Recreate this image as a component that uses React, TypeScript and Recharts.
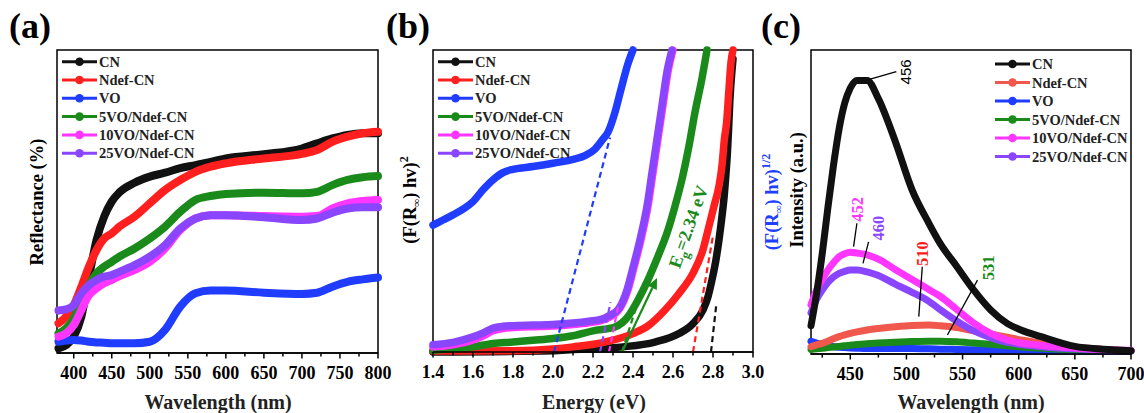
import React from "react";
import {
  LineChart,
  Line,
  XAxis,
  YAxis,
  ReferenceArea,
  ReferenceLine,
  ReferenceDot,
} from "recharts";

const SERIF = '"Liberation Serif", "Times New Roman", serif';
const SANS = '"Liberation Sans", Arial, sans-serif';

const names = ["CN", "Ndef-CN", "VO", "5VO/Ndef-CN", "10VO/Ndef-CN", "25VO/Ndef-CN"];
const colors = ["#111111", "#ff1f1f", "#1f3cff", "#1a8a1a", "#ff36ff", "#8a45ff"];
const colorsPL = ["#111111", "#f0584e", "#1f3cff", "#1a8a1a", "#ff36ff", "#8a45ff"];

// ---- (a) diffuse reflectance ----
const wlA = [380, 390, 400, 410, 420, 430, 440, 450, 460, 480, 500, 520, 540, 560, 580, 600, 650, 700, 720, 740, 760, 780, 800];
const refCN = [1.5, 2.6, 5.4, 12, 25, 37.3, 45, 50, 53, 56.2, 58.2, 59.5, 61, 62, 63.1, 64.2, 65.6, 67.5, 69.2, 70.8, 72, 72.5, 72.5];
const refNdef = [9.8, 12, 15.8, 21.9, 28.5, 34, 37.8, 39.5, 41.7, 45, 49.4, 53.8, 57.1, 59.8, 61.5, 62.6, 64.2, 65.7, 67, 69.7, 71.4, 72.5, 73];
const refVO = [3.7, 4.1, 4.3, 4.1, 3.7, 3.5, 3.4, 3.2, 3.2, 3.2, 3.7, 7.6, 15.3, 19.7, 20.6, 20.6, 19.9, 19.5, 19.9, 21.9, 23.5, 24.3, 24.9];
const ref5VO = [6.5, 8.1, 11.4, 17, 22.4, 26.3, 28.5, 30.1, 31.8, 34.5, 37.8, 41.7, 46.6, 50.5, 51.8, 52.5, 52.9, 52.7, 53.2, 55.4, 57.1, 58, 58.4];
const ref10VO = [5.4, 6.5, 9.2, 14.2, 19.1, 21.3, 23, 24.1, 25.4, 27.4, 30.1, 34.5, 40.6, 44.4, 45.5, 45.5, 45.2, 45, 45.2, 47.7, 49.4, 50.2, 50.5];
const ref25VO = [14, 14.4, 15.8, 19.7, 22.4, 24.1, 25.2, 25.7, 26.8, 29, 31.8, 35.6, 41.1, 44.4, 45.5, 45.5, 44.8, 43.9, 44.4, 46.3, 47.7, 48.1, 48.1];
const ticksA = [400, 450, 500, 550, 600, 650, 700, 750, 800];
const minorA = [425, 475, 525, 575, 625, 675, 725, 775];

// ---- (b) Tauc plot ----
const eCN = [1.4, 2.0, 2.1, 2.35, 2.51, 2.63, 2.7, 2.75, 2.775, 2.795, 2.815, 2.83, 2.845, 2.856, 2.864, 2.872, 2.878, 2.884, 2.893, 2.9];
const tCN = [0, 0.4, 0.8, 1.7, 3.3, 6.1, 9.4, 13.9, 18.3, 23.9, 30.6, 37.2, 45, 51.7, 58.3, 66, 73.9, 82.8, 91.7, 97];
const eNdef = [1.4, 1.8, 2.0, 2.1, 2.26, 2.4, 2.48, 2.56, 2.63, 2.7, 2.75, 2.78, 2.805, 2.83, 2.845, 2.857, 2.868, 2.88, 2.89, 2.9];
const tNdef = [0.3, 0.4, 1, 1.7, 3.3, 6.1, 8.9, 13.9, 19.4, 26.1, 33.9, 41.7, 48.3, 55, 61.7, 70.5, 76, 87.2, 96, 100];
const eVO = [1.4, 1.45, 1.5, 1.55, 1.6, 1.65, 1.7, 1.75, 1.8, 1.9, 2.0, 2.1, 2.16, 2.21, 2.25, 2.275, 2.31, 2.34, 2.375, 2.4];
const tVO = [42, 43.7, 45.4, 47.3, 49.8, 53.7, 57, 59.4, 60.5, 61.4, 62.5, 63.8, 65, 67.2, 70.5, 72.8, 79.4, 87, 95.5, 100];
const e5VO = [1.4, 1.6, 1.7, 1.8, 1.9, 2.0, 2.1, 2.2, 2.31, 2.375, 2.425, 2.475, 2.525, 2.57, 2.61, 2.645, 2.68, 2.71, 2.745, 2.77];
const t5VO = [0.6, 1.7, 2.8, 3.3, 3.9, 4.5, 5.4, 7, 8.3, 11.7, 17.2, 23.9, 31.7, 39.4, 48.3, 57.2, 68.3, 79.4, 90.6, 100];
const e10VO = [1.4, 1.5, 1.6, 1.65, 1.7, 1.75, 1.8, 1.9, 2.0, 2.1, 2.18, 2.24, 2.29, 2.335, 2.375, 2.405, 2.44, 2.475, 2.5, 2.525, 2.55, 2.575, 2.6];
const t10VO = [1.7, 2.4, 4, 5.3, 7, 7.8, 8.1, 8.4, 8.6, 9.1, 9.7, 10.4, 11.8, 14.5, 20.6, 28, 37.2, 48.3, 59.4, 70.6, 81.7, 92.8, 100];
const e25VO = [1.4, 1.5, 1.6, 1.65, 1.7, 1.75, 1.8, 1.9, 2.0, 2.1, 2.18, 2.24, 2.28, 2.33, 2.37, 2.4, 2.435, 2.47, 2.495, 2.52, 2.545, 2.57, 2.595];
const t25VO = [2.4, 3.2, 5, 6.3, 7.9, 8.5, 8.7, 8.9, 9.1, 9.6, 10.2, 10.8, 12, 14.5, 20.6, 28, 37.2, 48.3, 59.4, 70.6, 81.7, 92.8, 100];
const ticksB = [1.4, 1.6, 1.8, 2.0, 2.2, 2.4, 2.6, 2.8, 3.0];
const minorB = [1.5, 1.7, 1.9, 2.1, 2.3, 2.5, 2.7, 2.9];

// tangent fits: [x0, y0, x1, y1, colour]
const tangents: Array<[number, number, number, number, string]> = [
  [2.005, 0, 2.285, 71, colors[2]],
  [2.235, 0, 2.288, 16.5, colors[5]],
  [2.28, 0, 2.33, 16.5, colors[4]],
  [2.345, 0, 2.455, 23, colors[3]],
  [2.7, 0, 2.8, 38.5, colors[1]],
  [2.79, 0, 2.817, 16, colors[0]],
];
const egArrow = [2.345, 0, 2.52, 24.5];
const egLabelPos = [2.675, 41.5];

// ---- (c) photoluminescence ----
const wlC = [415, 420, 425, 430, 435, 440, 445, 450, 456, 465, 475, 490, 505, 520, 530, 545, 560, 575, 590, 602, 620, 650, 675, 700];
const plCN = [9.3, 20, 33, 48, 62, 74, 82.5, 87.5, 90, 90, 84, 70, 54, 43, 36.4, 28.7, 21, 14.5, 10, 7.9, 5.7, 2.5, 1.6, 1.1];
const plNdef = [2.4, 3, 3.5, 4.2, 5, 5.7, 6.3, 6.8, 7.3, 7.9, 8.4, 9, 9.4, 9.5, 9.3, 8.7, 7.6, 6.6, 5.5, 4.6, 3.6, 2.2, 1.5, 1.1];
const plVO = [4.2, 3.6, 3.1, 2.7, 2.4, 2.2, 2.1, 2, 1.9, 1.8, 1.8, 1.8, 1.8, 1.7, 1.6, 1.5, 1.4, 1.3, 1.2, 1.2, 1.1, 1.1, 1, 1];
const pl5VO = [1.5, 1.7, 1.9, 2.1, 2.3, 2.5, 2.7, 2.9, 3.1, 3.4, 3.6, 3.9, 4.1, 4.2, 4.2, 4, 3.6, 3.2, 2.7, 2.3, 1.9, 1.4, 1.2, 1.1];
const pl10VO = [16.2, 21, 24.5, 27.6, 30, 32, 33, 33.5, 33.2, 32.6, 31.2, 27.8, 24.5, 21.2, 19, 14.6, 10.2, 6.8, 4.6, 3.6, 2.8, 2, 1.5, 1.2];
const pl25VO = [13.5, 18, 21, 23.5, 25.3, 26.5, 27.2, 27.6, 27.6, 27, 25.8, 23, 20.3, 17.3, 14.6, 10.8, 7.6, 5.4, 3.8, 3.1, 2.4, 1.7, 1.3, 1.1];
const ticksC = [450, 500, 550, 600, 650, 700];
const minorC = [425, 475, 525, 575, 625, 675];

// peak callouts: label, colour, leader [x0,y0,x1,y1], text centre [x,y]
const peaks: Array<{ label: string; color: string; lead: number[]; at: number[]; sans?: boolean }> = [
  { label: "456", color: "#000", lead: [467.8, 90.4, 491, 92.9], at: [499, 92.8], sans: true },
  { label: "452", color: "#ff36ff", lead: [452.9, 35.3, 455.9, 43], at: [456.4, 47.6] },
  { label: "460", color: "#8a45ff", lead: [461.3, 29.8, 466.3, 36.9], at: [475, 41.4] },
  { label: "510", color: "#ff1a1a", lead: [511, 12.3, 514.1, 28.7], at: [514.3, 33] },
  { label: "531", color: "#1a8a1a", lead: [536.5, 6.25, 563.3, 24.3], at: [572.5, 28.3] },
];

interface Curve {
  key: string;
  color: string;
  x: number[];
  y: number[];
}

const toRows = (x: number[], y: number[]) => x.map((v, i) => ({ x: v, y: y[i] }));

function AxisTick(props: any) {
  const { x, y, payload, majors, fmt } = props;
  const isMajor = majors.some((m: number) => Math.abs(m - payload.value) < 1e-6);
  return (
    <g>
      <line x1={x} y1={y} x2={x} y2={y + (isMajor ? 5.5 : 3.5)} stroke="#000" strokeWidth={1.5} />
      {isMajor && (
        <text x={x} y={y + 26} textAnchor="middle" fontFamily={SERIF} fontWeight="bold" fontSize={18} fill="#000">
          {fmt(payload.value)}
        </text>
      )}
    </g>
  );
}

interface PanelProps {
  left: number;
  top: number;
  w: number;
  h: number;
  domain: [number, number];
  majors: number[];
  minors: number[];
  fmt: (v: number) => string;
  curves: Curve[];
  sw: number;
  extras?: React.ReactNode[];
}

function Panel({ left, top, w, h, domain, majors, minors, fmt, curves, sw, extras = [] }: PanelProps) {
  const padY = 5;
  const padX = 25;
  const allTicks = [...majors, ...minors].sort((a, b) => a - b);
  return (
    <div style={{ position: "absolute", left: left - padX, top: top - padY }}>
      <LineChart
        width={w + 2 * padX}
        height={h + padY + 45}
        margin={{ top: padY, right: padX, left: padX, bottom: 0 }}
      >
        <XAxis
          dataKey="x"
          type="number"
          domain={domain}
          ticks={allTicks}
          interval={0}
          tickLine={false}
          tickSize={0}
          tickMargin={0}
          height={45}
          axisLine={{ stroke: "#000", strokeWidth: 1.5 }}
          tick={(p: any) => <AxisTick {...p} majors={majors} fmt={fmt} />}
        />
        <YAxis hide type="number" domain={[0, 100]} />
        <ReferenceArea
          x1={domain[0]}
          x2={domain[1]}
          y1={0}
          y2={100}
          fill="none"
          fillOpacity={0}
          stroke="#000"
          strokeWidth={1.5}
          ifOverflow="visible"
        />
        {curves.map((c) => (
          <Line
            key={c.key}
            data={toRows(c.x, c.y)}
            dataKey="y"
            type="monotone"
            stroke={c.color}
            strokeWidth={sw}
            strokeLinecap="round"
            dot={false}
            activeDot={false}
            isAnimationActive={false}
          />
        ))}
        {extras}
      </LineChart>
    </div>
  );
}

function Legend({ x, y, step, palette }: { x: number; y: number; step: number; palette: string[] }) {
  return (
    <g>
      {names.map((n, i) => {
        const cy = y + i * step;
        return (
          <g key={n}>
            <line x1={x} y1={cy} x2={x + 35} y2={cy} stroke={palette[i]} strokeWidth={3} />
            <circle cx={x + 17.5} cy={cy} r={4.3} fill={palette[i]} />
            <text x={x + 37} y={cy + 5} fontFamily={SERIF} fontWeight="bold" fontSize={14.5} fill="#222">
              {n}
            </text>
          </g>
        );
      })}
    </g>
  );
}

function VTitle({ x, y, color = "#000", children }: { x: number; y: number; color?: string; children: React.ReactNode }) {
  return (
    <text
      transform={`translate(${x},${y}) rotate(-90)`}
      textAnchor="middle"
      fontFamily={SERIF}
      fontWeight="bold"
      fontSize={18.5}
      fill={color}
    >
      {children}
    </text>
  );
}

const fmtInt = (v: number) => String(Math.round(v));
const fmtOne = (v: number) => v.toFixed(1);

export default function App() {
  const curvesA: Curve[] = [
    { key: "cn", color: colors[0], x: wlA, y: refCN },
    { key: "ndef", color: colors[1], x: wlA, y: refNdef },
    { key: "vo", color: colors[2], x: wlA, y: refVO },
    { key: "5vo", color: colors[3], x: wlA, y: ref5VO },
    { key: "10vo", color: colors[4], x: wlA, y: ref10VO },
    { key: "25vo", color: colors[5], x: wlA, y: ref25VO },
  ];
  const curvesB: Curve[] = [
    { key: "cn", color: colors[0], x: eCN, y: tCN },
    { key: "ndef", color: colors[1], x: eNdef, y: tNdef },
    { key: "vo", color: colors[2], x: eVO, y: tVO },
    { key: "5vo", color: colors[3], x: e5VO, y: t5VO },
    { key: "10vo", color: colors[4], x: e10VO, y: t10VO },
    { key: "25vo", color: colors[5], x: e25VO, y: t25VO },
  ];
  // CN is drawn last so it sits over the weaker emission curves
  const curvesC: Curve[] = [
    { key: "vo", color: colorsPL[2], x: wlC, y: plVO },
    { key: "5vo", color: colorsPL[3], x: wlC, y: pl5VO },
    { key: "ndef", color: colorsPL[1], x: wlC, y: plNdef },
    { key: "25vo", color: colorsPL[5], x: wlC, y: pl25VO },
    { key: "10vo", color: colorsPL[4], x: wlC, y: pl10VO },
    { key: "cn", color: colorsPL[0], x: wlC, y: plCN },
  ];

  const extrasB: React.ReactNode[] = [
    ...tangents.map(([x0, y0, x1, y1, col], i) => (
      <ReferenceLine
        key={`tan${i}`}
        segment={[{ x: x0, y: y0 }, { x: x1, y: y1 }]}
        stroke={col}
        strokeWidth={2.2}
        strokeDasharray="6 4"
        ifOverflow="visible"
      />
    )),
    <ReferenceLine
      key="arrow"
      segment={[{ x: egArrow[0], y: egArrow[1] }, { x: egArrow[2], y: egArrow[3] }]}
      ifOverflow="visible"
      shape={(p: any) => {
        const { x1, y1, x2, y2 } = p;
        const a = Math.atan2(y2 - y1, x2 - x1);
        const L = 11;
        const Wd = 5;
        const bx = x2 - L * Math.cos(a);
        const by = y2 - L * Math.sin(a);
        const nx = -Math.sin(a) * Wd;
        const ny = Math.cos(a) * Wd;
        return (
          <g>
            <line x1={x1} y1={y1} x2={bx} y2={by} stroke={colors[3]} strokeWidth={2.2} />
            <polygon points={`${x2},${y2} ${bx + nx},${by + ny} ${bx - nx},${by - ny}`} fill={colors[3]} />
          </g>
        );
      }}
    />,
    <ReferenceDot
      key="eg"
      x={egLabelPos[0]}
      y={egLabelPos[1]}
      r={0}
      ifOverflow="visible"
      shape={(p: any) => (
        <text
          transform={`translate(${p.cx},${p.cy}) rotate(-70.5)`}
          textAnchor="middle"
          dy="0.35em"
          fontFamily={SERIF}
          fontWeight="bold"
          fontSize={18}
          fill={colors[3]}
        >
          E<tspan fontSize={13} dy="5">g</tspan>
          <tspan dy="-5">=2.34 eV</tspan>
        </text>
      )}
    />,
  ];

  const extrasC: React.ReactNode[] = [
    ...peaks.map((pk) => (
      <ReferenceLine
        key={`lead${pk.label}`}
        segment={[{ x: pk.lead[0], y: pk.lead[1] }, { x: pk.lead[2], y: pk.lead[3] }]}
        stroke="#000"
        strokeWidth={1.3}
        ifOverflow="visible"
      />
    )),
    ...peaks.map((pk) => (
      <ReferenceDot
        key={`lab${pk.label}`}
        x={pk.at[0]}
        y={pk.at[1]}
        r={0}
        ifOverflow="visible"
        shape={(p: any) => (
          <text
            transform={`translate(${p.cx},${p.cy}) rotate(-90)`}
            textAnchor="middle"
            dy="0.35em"
            fontFamily={pk.sans ? SANS : SERIF}
            fontWeight={pk.sans ? "normal" : "bold"}
            fontSize={pk.sans ? 15 : 16.5}
            fill={pk.color}
          >
            {pk.label}
          </text>
        )}
      />
    )),
  ];

  return (
    <div
      style={{
        position: "fixed",
        left: 0,
        top: 0,
        width: 1144,
        height: 413,
        background: "#fff",
        overflow: "hidden",
      }}
    >
      <Panel left={57} top={50} w={321} h={303} domain={[378, 800]} majors={ticksA} minors={minorA} fmt={fmtInt} curves={curvesA} sw={8} />
      <Panel left={433} top={50} w={320} h={302} domain={[1.4, 3.0]} majors={ticksB} minors={minorB} fmt={fmtOne} curves={curvesB} sw={7.5} extras={extrasB} />
      <Panel left={811} top={50} w={320} h={304} domain={[415, 700]} majors={ticksC} minors={minorC} fmt={fmtInt} curves={curvesC} sw={7} extras={extrasC} />

      <svg width={1144} height={413} style={{ position: "absolute", left: 0, top: 0, pointerEvents: "none" }}>
        <g fontFamily={SERIF} fontWeight="bold" fontSize={36} fill="#000">
          <text x={9} y={38}>(a)</text>
          <text x={386} y={38}>(b)</text>
          <text x={761} y={38}>(c)</text>
        </g>
        <g fontFamily={SERIF} fontWeight="bold" fontSize={20} fill="#222" textAnchor="middle">
          <text x={218} y={409}>Wavelength (nm)</text>
          <text x={594} y={409}>Energy (eV)</text>
          <text x={971} y={409}>Wavelength (nm)</text>
        </g>
        <VTitle x={43} y={202}>Reflectance (%)</VTitle>
        <VTitle x={416} y={200}>
          (F(R<tspan fontSize={11} dy="4">∞</tspan>
          <tspan dy="-4">) hv)</tspan>
          <tspan fontSize={12} dy="-8">2</tspan>
        </VTitle>
        <VTitle x={803} y={190}>Intensity (a.u.)</VTitle>
        <VTitle x={778} y={202} color="#2040ff">
          (F(R<tspan fontSize={11} dy="4">∞</tspan>
          <tspan dy="-4">) hv)</tspan>
          <tspan fontSize={12} dy="-8">1/2</tspan>
        </VTitle>
        <Legend x={62} y={61.7} step={18.3} palette={colors} />
        <Legend x={438} y={61.7} step={18.3} palette={colors} />
        <Legend x={995} y={64} step={18.5} palette={colorsPL} />
      </svg>
    </div>
  );
}
